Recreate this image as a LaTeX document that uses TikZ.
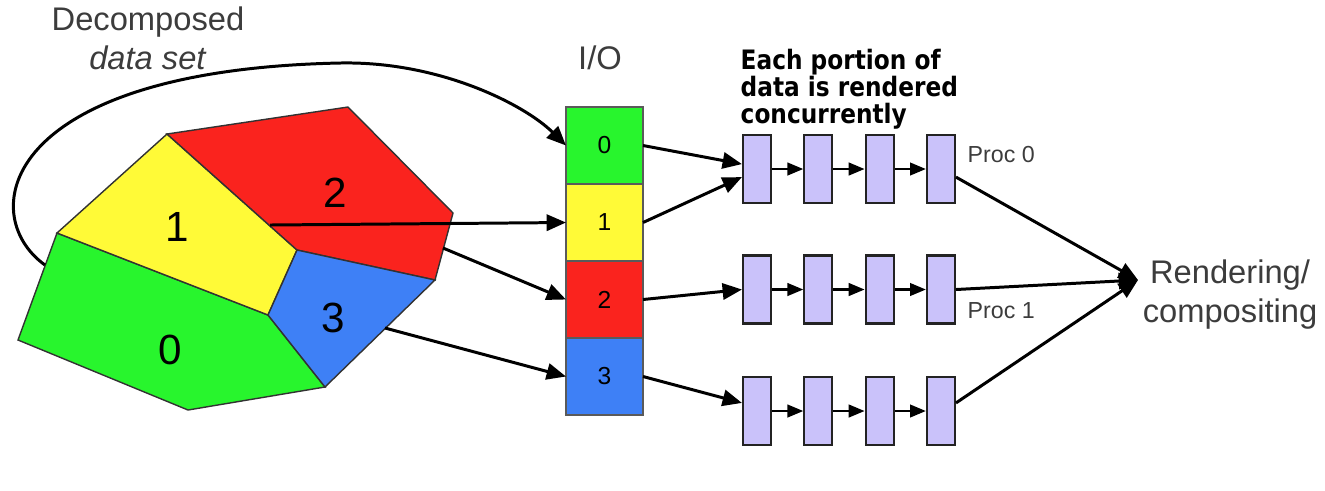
\documentclass[tikz,border=0pt]{standalone}
\usepackage{fontspec}
\setmainfont{Liberation Sans}
\newfontfamily\notefont{DejaVu Sans}[FakeStretch=0.87]
\usetikzlibrary{arrows.meta}
\definecolor{partgreen}{RGB}{40,245,45}
\definecolor{partyellow}{RGB}{255,250,55}
\definecolor{partred}{RGB}{250,35,30}
\definecolor{partblue}{RGB}{62,128,246}
\definecolor{proclilac}{RGB}{202,194,250}
\definecolor{edgegray}{RGB}{50,50,50}
\definecolor{iogray}{RGB}{90,90,90}
\definecolor{procedge}{RGB}{35,35,35}
\definecolor{textgray}{RGB}{60,60,60}

\begin{document}
\begin{tikzpicture}[x=0.01cm,y=-0.01cm,>={Triangle[length=5.5pt,width=4.6pt]}]
    \tikzstyle{part} = [draw=edgegray,line width=0.4pt]
    \tikzstyle{partlabel} = [font=\fontsize{12}{14}\selectfont]
    \tikzstyle{iobox} = [draw=iogray,line width=0.5pt,minimum width=0.77cm,minimum height=0.77cm,inner sep=0pt,outer sep=0pt,font=\fontsize{7}{8}\selectfont]
    \tikzstyle{procbox} = [draw=procedge,fill=proclilac,line width=0.6pt,minimum width=0.28cm,minimum height=0.68cm,inner sep=0pt]
    \tikzstyle{dataarrow} = [->,line width=0.85pt]
    \tikzstyle{steparrow} = [-{Triangle[length=4.5pt,width=3.6pt]},line width=0.6pt]
    \tikzstyle{caption} = [text=textgray,font=\fontsize{9.3}{11.1}\selectfont,align=center,inner sep=0pt]
    \useasboundingbox (0,0) rectangle (1325,490);
      % decomposed data set
      \filldraw[part,fill=partgreen] (57,233) -- (268,315) -- (325,387) -- (188,410) -- (18,340) -- cycle;
      \filldraw[part,fill=partyellow] (57,233) -- (167,134) -- (297,250) -- (268,315) -- cycle;
      \filldraw[part,fill=partred] (167,134) -- (348,107) -- (453,213) -- (435,280) -- (297,250) -- cycle;
      \filldraw[part,fill=partblue] (297,250) -- (435,280) -- (325,387) -- (268,315) -- cycle;
      \node[partlabel] (lab0) at (170,350) {0};
      \node[partlabel] (lab1) at (177,227) {1};
      \node[partlabel] (lab2) at (335,193) {2};
      \node[partlabel] (lab3) at (333,318) {3};
      \coordinate (from0) at (45,265);
      \coordinate (from1) at (270,225);
      \coordinate (from2) at (443,248);
      \coordinate (from3) at (385,328);
      \node[caption,anchor=north] (dataset) at (148,6) {Decomposed\\\textit{data set}};
      % I/O column
      \node[caption,anchor=base] (iolabel) at (600,69) {I/O};
      \foreach \i/\c in {0/partgreen,1/partyellow,2/partred,3/partblue}
        \node[iobox,fill=\c] (io\i) at (604.5,{145.5+77*\i}) {\i};
      \draw[dataarrow] (from0) .. controls (-25,215) and (0,70) .. (340,63) .. controls (440,61) and (525,105) .. (io0.west);
      \foreach \i in {1,2,3} \draw[dataarrow] (from\i) -- (io\i.west);
      % rendering pipelines
      \node[anchor=north west,inner sep=0pt,align=left,font=\notefont\bfseries\fontsize{7.6}{7.8}\selectfont] (note) at (740,48) {Each portion of\\data is rendered\\concurrently};
      \foreach \r/\y in {0/169,1/289.5,2/411}
        \foreach \j in {1,...,4}
          \node[procbox] (p\r\j) at ({757+61.3*(\j-1)},\y) {};
      \foreach \r in {0,1,2}
        \foreach \j [count=\k from 2] in {1,2,3}
          \draw[steparrow] (p\r\j) -- (p\r\k);
      \node[anchor=base west,inner sep=0pt,text=textgray,font=\fontsize{6.6}{8}\selectfont] (proc0) at (967,162) {Proc 0};
      \node[anchor=base west,inner sep=0pt,text=textgray,font=\fontsize{6.6}{8}\selectfont] (proc1) at (967,318) {Proc 1};
      \draw[dataarrow] (io0.east) -- ([yshift=1.4pt]p01.west);
      \draw[dataarrow] (io1.east) -- ([yshift=-2.3pt]p01.west);
      \draw[dataarrow] (io2.east) -- (p11.west);
      \draw[dataarrow] (io3.east) -- ([yshift=2.3pt]p21.west);
      % compositing
      \coordinate (merge) at (1138,280);
      \node[caption,anchor=north] (render) at (1230,259) {Rendering/\\compositing};
      \draw[dataarrow] ([yshift=-2.3pt]p04.east) -- (merge);
      \draw[dataarrow] (p14.east) -- (merge);
      \draw[dataarrow] ([yshift=2.3pt]p24.east) -- (merge);
  \end{tikzpicture}
\end{document}
